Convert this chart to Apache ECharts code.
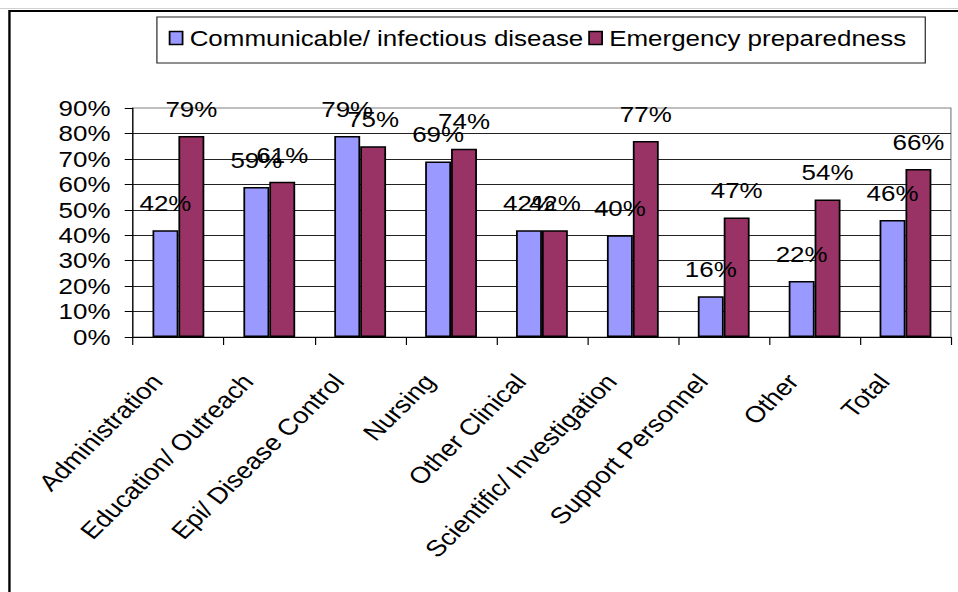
<!DOCTYPE html>
<html>
<head>
<meta charset="utf-8">
<script src="https://cdn.jsdelivr.net/npm/echarts@6/dist/echarts.min.js"></script>
<style>
  html, body { margin: 0; padding: 0; background: #fff; overflow: hidden; }
  /* The chart is laid out at 812px and widened to 958px, giving the broad lettering of the report figure */
  #chart { width: 812px; height: 592px; transform: scaleX(1.1798); transform-origin: 0 0; }
</style>
</head>
<body>
<div id="chart"></div>
<script>
// Staff categories
const categories = [
  'Administration', 'Education/ Outreach', 'Epi/ Disease Control', 'Nursing',
  'Other Clinical', 'Scientific/ Investigation', 'Support Personnel', 'Other', 'Total'
];
// Share of respondents (%) per series
const communicable = [42, 59, 79, 69, 42, 40, 16, 22, 46];
const emergency = [79, 61, 75, 74, 42, 77, 47, 54, 66];
const seriesNames = ['Communicable/ infectious disease', 'Emergency preparedness'];
// Value axis range and step (percent)
const yMin = 0, yMax = 90, yStep = 10;

const FONT = '"Liberation Sans", Arial, sans-serif';

const chart = echarts.init(document.getElementById('chart'), null, { renderer: 'svg' });

const barLabel = {
  show: true,
  position: 'top',
  distance: 16,
  formatter: '{c}%',
  color: '#000',
  fontSize: 22,
  fontFamily: FONT
};

chart.setOption({
  backgroundColor: '#fff',
  animation: false,
  graphic: [
    {
      // faint rule above the frame
      type: 'line',
      z: -10,
      shape: { x1: 0, y1: 8.5, x2: 812, y2: 8.5 },
      style: { stroke: '#d0d0d0', lineWidth: 1 }
    },
    {
      // chart frame
      type: 'rect',
      z: -10,
      shape: { x: 8, y: 11, width: 1000, height: 1000 },
      style: { fill: 'none', stroke: '#000', lineWidth: 2 }
    }
  ],
  legend: {
    left: 133,
    top: 17,
    padding: [10, 16, 14, 10],
    borderColor: '#222',
    borderWidth: 1,
    itemWidth: 11,
    itemHeight: 13,
    itemGap: 4,
    icon: 'rect',
    itemStyle: { borderColor: '#000', borderWidth: 1.5 },
    textStyle: { fontSize: 22, fontFamily: FONT, color: '#000', padding: [0, 0, 0, 1] },
    data: seriesNames
  },
  grid: {
    left: 112.7,
    right: 6,
    top: 108,
    bottom: 255,
    show: true,
    borderColor: '#808080',
    borderWidth: 1,
    backgroundColor: 'transparent'
  },
  xAxis: {
    type: 'category',
    data: categories,
    axisLine: { show: true, lineStyle: { color: '#000', width: 1 } },
    axisTick: { show: true, length: 8, alignWithLabel: false, interval: 0, lineStyle: { color: '#000' } },
    axisLabel: {
      interval: 0,
      rotate: 49,
      margin: 19,
      padding: [0, 28, 0, 0],
      color: '#000',
      fontSize: 23,
      fontFamily: FONT
    },
    splitLine: { show: false }
  },
  yAxis: {
    type: 'value',
    min: yMin,
    max: yMax,
    interval: yStep,
    axisLine: { show: true, lineStyle: { color: '#000', width: 1 } },
    axisTick: { show: true, length: 7, lineStyle: { color: '#000' } },
    axisLabel: {
      formatter: '{value}%',
      margin: 19,
      color: '#000',
      fontSize: 22,
      fontFamily: FONT
    },
    splitLine: { show: true, showMaxLine: false, lineStyle: { color: '#222', width: 1 } }
  },
  series: [
    {
      name: seriesNames[0],
      type: 'bar',
      data: communicable,
      barWidth: '28.5%',
      barGap: '0%',
      itemStyle: { color: '#9999FF', borderColor: '#000', borderWidth: 1.5 },
      label: barLabel
    },
    {
      name: seriesNames[1],
      type: 'bar',
      data: emergency,
      barWidth: '28.5%',
      barGap: '0%',
      itemStyle: { color: '#993366', borderColor: '#000', borderWidth: 1.5 },
      label: barLabel
    }
  ]
});
</script>
</body>
</html>
